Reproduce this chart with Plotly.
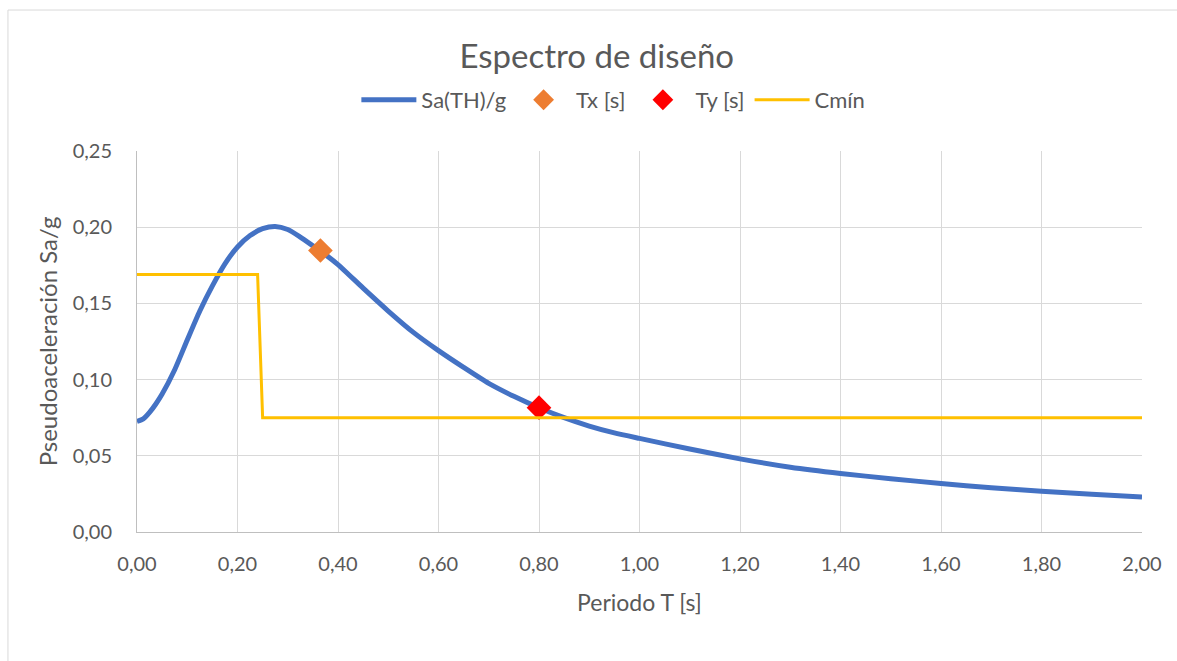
import plotly.graph_objects as go

# Design spectrum Sa(T)/g
periodo = [0.00, 0.0125, 0.025, 0.0375, 0.05, 0.075, 0.10, 0.125, 0.15, 0.175, 0.20, 0.225,
           0.25, 0.275, 0.30, 0.325, 0.35, 0.375, 0.40, 0.45, 0.50, 0.55,
           0.60, 0.65, 0.70, 0.75, 0.80, 0.85, 0.90, 0.95, 1.00, 1.10,
           1.20, 1.30, 1.40, 1.50, 1.60, 1.70, 1.80, 1.90, 2.00]
sa_g = [0.0725, 0.0742, 0.0785, 0.0840, 0.0905, 0.1065, 0.126, 0.145, 0.1615, 0.176, 0.187, 0.1945,
        0.199, 0.2005, 0.1985, 0.1935, 0.1878, 0.1820, 0.1755, 0.160, 0.145, 0.131,
        0.119, 0.108, 0.0975, 0.089, 0.0815, 0.075, 0.0695, 0.065, 0.0614, 0.0545,
        0.048, 0.0425, 0.0384, 0.035, 0.0318, 0.029, 0.0268, 0.0248, 0.023]

# Fundamental periods of the structure
tx = [0.365]
sa_tx = [0.1847]
ty = [0.80]
sa_ty = [0.0816]

# Minimum seismic coefficient
cmin_t = [0.00, 0.24, 0.25, 2.00]
cmin_v = [0.169, 0.169, 0.075, 0.075]

FONT = "Lato"
GREY = "#595959"

fig = go.Figure()
fig.add_trace(go.Scatter(x=periodo, y=sa_g, mode="lines", name="Sa(TH)/g",
                         line=dict(color="#4472C4", width=5, shape="spline", smoothing=0.6)))
fig.add_trace(go.Scatter(x=tx, y=sa_tx, mode="markers", name="Tx [s]",
                         marker=dict(symbol="diamond", color="#ED7D31", size=19)))
fig.add_trace(go.Scatter(x=ty, y=sa_ty, mode="markers", name="Ty [s]",
                         marker=dict(symbol="diamond", color="#FF0000", size=19)))
fig.add_trace(go.Scatter(x=cmin_t, y=cmin_v, mode="lines", name="Cmín",
                         line=dict(color="#FFC000", width=3)))

fig.update_layout(
    width=1177, height=661,
    margin=dict(l=137, r=35, t=151, b=129),
    paper_bgcolor="white", plot_bgcolor="white",
    separators=",.",
    font=dict(family=FONT, color=GREY, size=20),
    title=dict(text="Espectro de diseño", x=0.507, xanchor="center",
               y=0.915, yanchor="middle", font=dict(size=33, color=GREY, family=FONT)),
    legend=dict(orientation="h", x=0.474, xanchor="center", y=1.134, yanchor="middle",
                font=dict(size=22, color=GREY), itemwidth=55, traceorder="normal"),
    showlegend=True,
)
fig.update_xaxes(range=[0, 2.0], dtick=0.2, tick0=0, tickformat=".2f",
                 showgrid=True, gridcolor="#d9d9d9", gridwidth=1,
                 showline=True, linecolor="#bfbfbf", linewidth=1,
                 zeroline=False, ticks="", ticklabelstandoff=14,
                 title=dict(text="Periodo T [s]", font=dict(size=23, color=GREY), standoff=20))
fig.update_yaxes(range=[0, 0.25], dtick=0.05, tick0=0, tickformat=".2f",
                 showgrid=True, gridcolor="#d9d9d9", gridwidth=1,
                 showline=True, linecolor="#bfbfbf", linewidth=1,
                 zeroline=False, ticks="", ticklabelstandoff=20,
                 title=dict(text="Pseudoaceleración Sa/g", font=dict(size=24, color=GREY), standoff=8))

# Outer chart frame
fig.add_shape(type="rect", xref="paper", yref="paper",
              x0=-0.1284, x1=1.06, y0=-0.45, y1=1.370,
              line=dict(color="#d9d9d9", width=1), fillcolor="rgba(0,0,0,0)", layer="below")

fig.write_html("out.html")
